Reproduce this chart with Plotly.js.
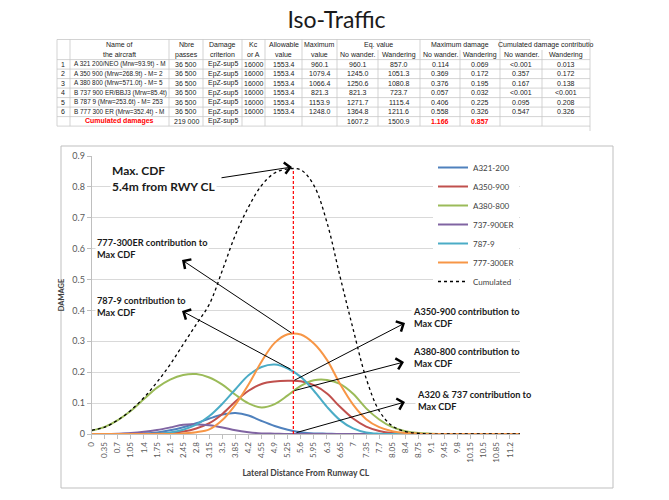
<!DOCTYPE html>
<html>
<head>
<meta charset="utf-8">
<script src="https://cdn.plot.ly/plotly-3.0.1.min.js"></script>
<style>html,body{margin:0;padding:0;background:#fff;}#chart{width:669px;height:500px;}</style>
</head>
<body>
<div id="chart"></div>
<script>
// ---------- chart data ----------
const lateralDistance = [0,0.35,0.7,1.05,1.4,1.75,2.1,2.45,2.8,3.15,3.5,3.85,4.2,4.55,4.9,5.25,5.6,5.95,6.3,6.65,7,7.35,7.7,8.05,8.4,8.75,9.1,9.45,9.8,10.15,10.5,10.85,11.2,11.55];
const tickLabels = ['0','0.35','0.7','1.05','1.4','1.75','2.1','2.45','2.8','3.15','3.5','3.85','4.2','4.55','4.9','5.25','5.6','5.95','6.3','6.65','7','7.35','7.7','8.05','8.4','8.75','9.1','9.45','9.8','10.15','10.5','10.85','11.2'];
const tickValues = [0,0.35,0.7,1.05,1.4,1.75,2.1,2.45,2.8,3.15,3.5,3.85,4.2,4.55,4.9,5.25,5.6,5.95,6.3,6.65,7,7.35,7.7,8.05,8.4,8.75,9.1,9.45,9.8,10.15,10.5,10.85,11.2];

const a321 = [0,0,0,0.001,0.002,0.005,0.012,0.022,0.035,0.05,0.063,0.068,0.06,0.042,0.026,0.014,0.006,0.002,0.001,0,0,0,0,0,0,0,0,0,0,0,0,0,0,0];
const a350 = [0,0,0,0,0,0.001,0.003,0.008,0.018,0.035,0.065,0.105,0.14,0.162,0.17,0.172,0.171,0.158,0.131,0.088,0.05,0.024,0.01,0.003,0.001,0,0,0,0,0,0,0,0,0];
const a380 = [0.011,0.023,0.045,0.075,0.113,0.15,0.176,0.191,0.194,0.183,0.16,0.127,0.099,0.086,0.097,0.125,0.156,0.174,0.175,0.162,0.13,0.083,0.047,0.022,0.009,0.003,0.001,0,0,0,0,0,0,0];
const b737 = [0,0,0.001,0.003,0.007,0.013,0.021,0.03,0.031,0.028,0.021,0.012,0.006,0.002,0.001,0,0,0,0,0,0,0,0,0,0,0,0,0,0,0,0,0,0,0];
const b787 = [0,0,0,0,0,0.001,0.005,0.014,0.03,0.058,0.098,0.145,0.19,0.217,0.225,0.212,0.185,0.14,0.088,0.045,0.018,0.005,0.001,0,0,0,0,0,0,0,0,0,0,0];
const b777 = [0,0,0,0,0,0,0,0.002,0.006,0.015,0.045,0.095,0.16,0.235,0.295,0.323,0.322,0.293,0.24,0.162,0.095,0.048,0.022,0.009,0.003,0.001,0,0,0,0,0,0,0,0];
const cumulated = [0.012,0.022,0.045,0.077,0.118,0.168,0.225,0.29,0.355,0.42,0.53,0.645,0.735,0.805,0.845,0.858,0.855,0.805,0.685,0.51,0.34,0.18,0.075,0.026,0.008,0.002,0,0,0,0,0,0,0,0];

const seriesNames = ['A321-200','A350-900','A380-800','737-900ER','787-9','777-300ER','Cumulated'];
const maxCdfPosition = 5.4;
const maxCdfValue = 0.857;

// ---------- table data ----------
const headerLine1 = ['', 'Name of', 'Nbre', 'Damage', 'Kc', 'Allowable', 'Maximum'];
const headerLine2 = ['', 'the aircraft', 'passes', 'criterion', 'or A', 'value', 'value', 'No wander.', 'Wandering', 'No wander.', 'Wandering', 'No wander.', 'Wandering'];
const groupHeaders = ['Eq. value', 'Maximum damage', 'Cumulated damage contributio'];
const rowNo = ['1','2','3','4','5','6',''];
const aircraftNames = ['A 321 200/NEO (Mrw=93.9t) - M','A 350 900 (Mrw=268.9t) - M= 2','A 380 800 (Mrw=571.0t) - M= 5','B 737 900 ER/BBJ3 (Mrw=85.4t)','B 787 9 (Mrw=253.6t) - M= 253','B 777 300 ER (Mrw=352.4t) - M','Cumulated damages'];
const passes = ['36 500','36 500','36 500','36 500','36 500','36 500','219 000'];
const criterion = ['EpZ-sup5','EpZ-sup5','EpZ-sup5','EpZ-sup5','EpZ-sup5','EpZ-sup5','EpZ-sup5'];
const kcOrA = ['16000','16000','16000','16000','16000','16000',''];
const allowable = ['1553.4','1553.4','1553.4','1553.4','1553.4','1553.4',''];
const maxValue = ['960.1','1079.4','1066.4','821.3','1153.9','1248.0',''];
const eqNoWander = ['960.1','1245.0','1250.6','821.3','1271.7','1364.8','1607.2'];
const eqWandering = ['857.0','1051.3','1080.8','723.7','1115.4','1211.6','1500.9'];
const maxDmgNoWander = ['0.114','0.369','0.376','0.057','0.406','0.558','1.166'];
const maxDmgWandering = ['0.069','0.172','0.195','0.032','0.225','0.326','0.857'];
const cumNoWander = ['<0.001','0.357','0.167','<0.001','0.095','0.547',''];
const cumWandering = ['0.013','0.172','0.138','<0.001','0.208','0.326',''];

// ---------- layout helpers ----------
const W = 669, H = 500;
const px = v => v / W;
const py = v => 1 - v / H;
const esc = s => s.replace(/&/g,'&amp;').replace(/</g,'&lt;');

const colors = ['#4F81BD','#C0504D','#9BBB59','#8064A2','#4BACC6','#F79646'];
const seriesData = [a321, a350, a380, b737, b787, b777];

const traces = seriesData.map((d, i) => ({
  type: 'scatter', mode: 'lines', x: lateralDistance, y: d, name: seriesNames[i],
  line: {color: colors[i], width: 2, shape: 'spline', smoothing: 1}
}));
traces.push({
  type: 'scatter', mode: 'lines', x: lateralDistance, y: cumulated, name: seriesNames[6],
  line: {color: '#000000', width: 1.3, dash: 'dot', shape: 'spline', smoothing: 1}
});

const shapes = [];
const annotations = [];

// chart frame
shapes.push({type:'rect', xref:'paper', yref:'paper', x0:px(61), x1:px(613), y0:py(488), y1:py(146), line:{color:'#bfbfbf', width:1}, layer:'below'});
// red dashed vertical at max CDF
shapes.push({type:'line', xref:'x', yref:'y', x0:maxCdfPosition, x1:maxCdfPosition, y0:0, y1:maxCdfValue, line:{color:'#FF0000', width:1.2, dash:'3px,2px'}});

// ---------- table ----------
const colEdges = [57,70,169,203,242,265,302,337,378,420,460,500,542,590];
const rowEdges = [39.5,59.6,69.1,78.6,88.1,97.6,107.1,116.6,126.1];
const gridColor = '#c8c8c8';
rowEdges.forEach(y => shapes.push({type:'line', xref:'paper', yref:'paper', x0:px(colEdges[0]), x1:px(colEdges[colEdges.length-1]), y0:py(y), y1:py(y), line:{color:gridColor, width:0.8}}));
colEdges.forEach((x, i) => {
  const inner = (i === 8 || i === 10 || i === 12);
  shapes.push({type:'line', xref:'paper', yref:'paper', x0:px(x), x1:px(x), y0:py(inner ? 50 : rowEdges[0]), y1:py(rowEdges[rowEdges.length-1]), line:{color:gridColor, width:0.8}});
});
shapes.push({type:'line', xref:'paper', yref:'paper', x0:px(590), x1:px(590), y0:py(126), y1:py(131), line:{color:gridColor, width:0.8}});

const tFont = {family:'Liberation Sans, Arial', size:7, color:'#222222'};
const nameFont = {family:'Liberation Sans, Arial', size:6.4, color:'#222222'};
function cell(text, x, y, align, font) {
  annotations.push({xref:'paper', yref:'paper', x:px(x), y:py(y), xanchor:align, yanchor:'middle', text:text, showarrow:false, font:font || tFont});
}
const ctr = i => (colEdges[i] + colEdges[i+1]) / 2;
headerLine1.forEach((t, i) => { if (t) cell(t, ctr(i), 45, 'center'); });
headerLine2.forEach((t, i) => { if (t) cell(t, ctr(i), 55, 'center'); });
groupHeaders.forEach((t, g) => { const c0 = 7 + 2*g; cell(t, (colEdges[c0] + colEdges[c0+2]) / 2, 45, 'center'); });

const tableCols = [rowNo, aircraftNames, passes, criterion, kcOrA, allowable, maxValue, eqNoWander, eqWandering, maxDmgNoWander, maxDmgWandering, cumNoWander, cumWandering];
const redBold = {family:'Liberation Sans, Arial', size:7, color:'#FF0000'};
tableCols.forEach((col, c) => {
  col.forEach((v, r) => {
    if (!v) return;
    const yc = (rowEdges[r+1] + rowEdges[r+2]) / 2;
    const isTotal = (r === 6);
    let text = esc(v), font = tFont, x = ctr(c), al = 'center';
    if (c === 0) { x = colEdges[0] + 2; al = 'left'; }
    if (c === 1 && !isTotal) { x = colEdges[1] + 2; al = 'left'; font = nameFont; }
    if (isTotal && (c === 1 || c === 9 || c === 10)) { text = '<b>' + text + '</b>'; font = redBold; }
    cell(text, x, yc, al, font);
  });
});

// ---------- chart annotations ----------
function note(text, x, y, size) {
  annotations.push({xref:'paper', yref:'paper', x:px(x), y:py(y), xanchor:'left', yanchor:'middle', align:'left',
    text:'<b>' + text + '</b>', showarrow:false, bgcolor:'#ffffff', borderpad:1,
    font: {family:'Lato', size:size || 9.2, color:'#1a1a1a'}});
}
function arrow(tailX, tailY, headX, headY) {
  annotations.push({xref:'paper', yref:'paper', x:px(headX), y:py(headY), ax:tailX - headX, ay:tailY - headY,
    text:'', showarrow:true, arrowhead:4, arrowsize:2.2, arrowwidth:1, arrowcolor:'#000000', standoff:0, startstandoff:0});
}
note('Max. CDF<br>5.4m from RWY CL', 110, 178, 12);
note('777-300ER contribution to<br>Max CDF', 95, 248);
note('787-9 contribution to<br>Max CDF', 95, 306);
note('A350-900 contribution to<br>Max CDF', 411, 317);
note('A380-800 contribution to<br>Max CDF', 411, 357.5);
note('A320 &amp; 737 contribution to<br>Max CDF', 415, 400);
arrow(220, 178, 292, 167);
arrow(293, 334, 182, 260);
arrow(292, 370, 182, 311);
arrow(293, 381, 405, 323);
arrow(293, 391, 404, 362);
arrow(295, 433, 405, 402);

const axisFont = {family:'Lato', size:9, color:'#595959'};
const layout = {
  width: W, height: H,
  margin: {l:0, r:0, t:0, b:0},
  paper_bgcolor: '#ffffff', plot_bgcolor: '#ffffff',
  title: {text:'Iso-Traffic', font:{family:'Lato', size:23, color:'#1a1a1a'}, x:0.503, xanchor:'center', y:py(20), yanchor:'middle', yref:'container'},
  xaxis: {
    domain:[px(91.7), px(520)], range:[0, 11.47], tickmode:'array', tickvals:tickValues, ticktext:tickLabels,
    tickangle:-90, tickfont:{family:'Lato', size:8, color:'#595959'}, ticks:'outside', ticklen:4, tickcolor:'#bfbfbf',
    showgrid:false, showline:true, linecolor:'#bfbfbf', linewidth:1, zeroline:false,
    title:{text:'<b>Lateral Distance From Runway CL</b>', font:{family:'Lato', size:8.5, color:'#404040'}, standoff:8}
  },
  yaxis: {
    domain:[py(434), py(156)], range:[0, 0.9], dtick:0.1, tickfont:axisFont,
    ticks:'outside', ticklen:4, tickcolor:'#bfbfbf', showgrid:true, gridcolor:'#d9d9d9', gridwidth:1,
    showline:true, linecolor:'#bfbfbf', zeroline:false,
    title:{text:'<b>DAMAGE</b>', font:{family:'Lato', size:7.5, color:'#404040'}, standoff:6}
  },
  legend: {x:px(433), y:py(153), xanchor:'left', yanchor:'top', bgcolor:'#ffffff', font:{family:'Lato', size:8, color:'#404040'}, itemwidth:30, tracegroupgap:0},
  showlegend: true,
  shapes: shapes,
  annotations: annotations
};

Plotly.newPlot('chart', traces, layout, {displayModeBar:false, staticPlot:true});
</script>
</body>
</html>
